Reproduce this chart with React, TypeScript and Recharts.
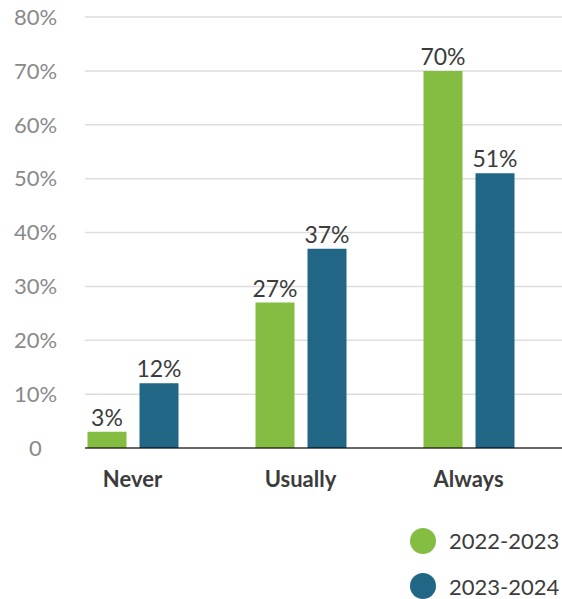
import { Bar, BarChart, CartesianGrid, LabelList, Legend, XAxis, YAxis } from "recharts";

// 回答カテゴリと年度別の割合（%）
const categories = ["Never", "Usually", "Always"];
const series2022 = [3, 27, 70];
const series2023 = [12, 37, 51];
const yTicks = [0, 10, 20, 30, 40, 50, 60, 70, 80];

const COLOR_2022 = "#84bd41";
const COLOR_2023 = "#216684";
const COLOR_TEXT = "#3c3c3c";
const COLOR_TICK = "#8a8a8a";
const COLOR_GRID = "#dddddd";
const FONT = "Lato, 'Noto Sans', sans-serif";

const data = categories.map((name, i) => ({
  name,
  "2022-2023": series2022[i],
  "2023-2024": series2023[i],
}));

function formatPercent(value: number) {
  return value === 0 ? "0" : `${value}%`;
}

function renderLegend(props: any) {
  const payload = props.payload ?? [];
  return (
    <div style={{ height: 90, paddingTop: 9, paddingLeft: 410, boxSizing: "border-box" }}>
      {payload.map((item: any) => (
        <div
          key={item.value}
          style={{ display: "flex", alignItems: "center", height: 45.5 }}
        >
          <span
            style={{
              width: 26,
              height: 26,
              borderRadius: "50%",
              background: item.color,
              marginRight: 13,
              flexShrink: 0,
            }}
          />
          <span style={{ fontFamily: FONT, fontSize: 22, color: COLOR_TEXT }}>
            {item.value}
          </span>
        </div>
      ))}
    </div>
  );
}

export default function App() {
  return (
    <div style={{ position: "absolute", left: 0, top: 0, background: "#fff" }}>
      <BarChart
        width={562}
        height={599}
        data={data}
        margin={{ top: 17, right: 0, bottom: 0, left: 0 }}
        barSize={39}
        barGap={13}
      >
        <CartesianGrid
          vertical={false}
          stroke={COLOR_GRID}
          strokeWidth={1.5}
        />
        <YAxis
          width={85}
          domain={[0, 80]}
          ticks={yTicks}
          tickFormatter={formatPercent}
          axisLine={false}
          tickLine={false}
          tickSize={6}
          tickMargin={43.5}
          tick={{
            fontSize: 22,
            fill: COLOR_TICK,
            fontFamily: FONT,
            textAnchor: "middle",
          }}
        />
        <Bar dataKey="2022-2023" fill={COLOR_2022} isAnimationActive={false}>
          <LabelList
            dataKey="2022-2023"
            position="top"
            offset={6}
            formatter={(v: any) => `${v}%`}
            style={{ fontSize: 23, fill: COLOR_TEXT, fontFamily: FONT }}
          />
        </Bar>
        <Bar dataKey="2023-2024" fill={COLOR_2023} isAnimationActive={false}>
          <LabelList
            dataKey="2023-2024"
            position="top"
            offset={6}
            formatter={(v: any) => `${v}%`}
            style={{ fontSize: 23, fill: COLOR_TEXT, fontFamily: FONT }}
          />
        </Bar>
        <XAxis
          dataKey="name"
          height={61}
          padding={{ left: -36.5, right: 9.5 }}
          axisLine={{ stroke: "#000", strokeOpacity: 0.55, strokeWidth: 2 }}
          tickLine={false}
          tickSize={6}
          tickMargin={17}
          tick={{
            fontSize: 22,
            fontWeight: 700,
            fill: COLOR_TEXT,
            fontFamily: FONT,
          }}
        />
        <Legend verticalAlign="bottom" content={renderLegend} />
      </BarChart>
    </div>
  );
}
